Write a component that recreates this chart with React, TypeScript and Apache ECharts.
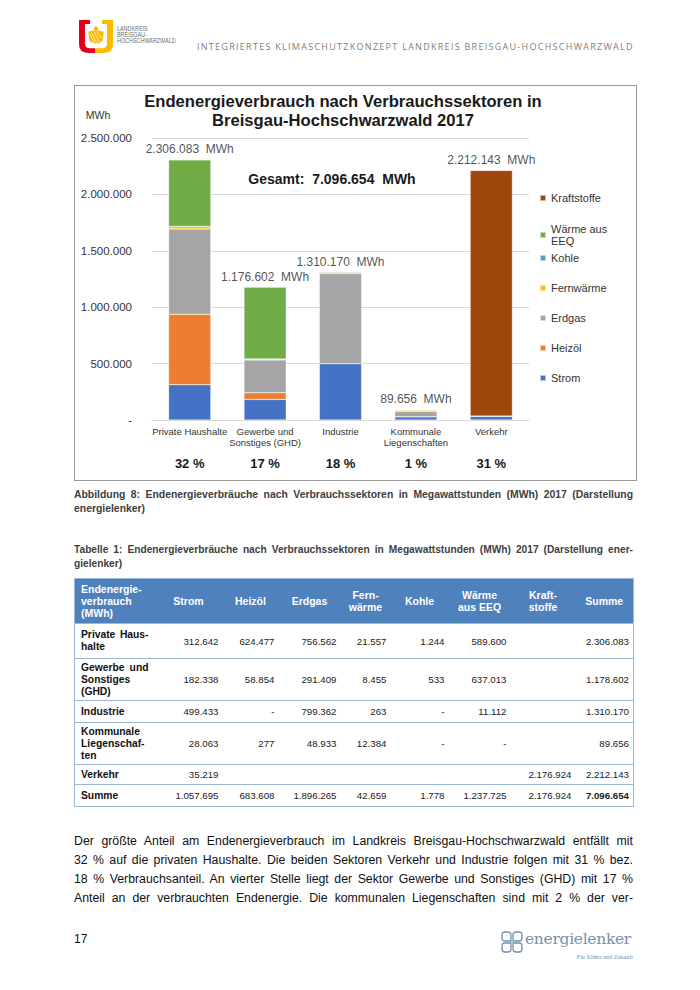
import React, { useEffect, useRef } from "react";
import * as echarts from "echarts";

const FONT = "'Liberation Sans', Arial, Helvetica, sans-serif";

// ---- chart data ----
const CATEGORIES = [
  "Private Haushalte",
  "Gewerbe und\nSonstiges (GHD)",
  "Industrie",
  "Kommunale\nLiegenschaften",
  "Verkehr",
];
const STROM = [312642, 182338, 499433, 28063, 35219];
const HEIZOEL = [624477, 58854, 0, 277, 0];
const ERDGAS = [756562, 291409, 799362, 48933, 0];
const FERNWAERME = [21557, 8455, 263, 12384, 0];
const KOHLE = [1244, 533, 0, 0, 0];
const WAERME_EEQ = [589600, 637013, 11112, 0, 0];
const KRAFTSTOFFE = [0, 0, 0, 0, 2176924];
const TOTAL_LABELS = [2306083, 1176602, 1310170, 89656, 2212143];
const SHARES = [32, 17, 18, 1, 31];
const GRAND_TOTAL = 7096654;
const Y_MIN = 0;
const Y_MAX = 2500000;
const Y_INTERVAL = 500000;

// ---- table data ----
const TABLE_HEADERS = [
  ["Endenergie-", "verbrauch", "(MWh)"],
  ["Strom"],
  ["Heizöl"],
  ["Erdgas"],
  ["Fern-", "wärme"],
  ["Kohle"],
  ["Wärme", "aus EEQ"],
  ["Kraft-", "stoffe"],
  ["Summe"],
];
const ROW_LABELS = [
  ["Private Haus-", "halte"],
  ["Gewerbe und", "Sonstiges", "(GHD)"],
  ["Industrie"],
  ["Kommunale", "Liegenschaf-", "ten"],
  ["Verkehr"],
  ["Summe"],
];
const ROW_PRIVATE = ["312.642", "624.477", "756.562", "21.557", "1.244", "589.600", "", "2.306.083"];
const ROW_GHD = ["182.338", "58.854", "291.409", "8.455", "533", "637.013", "", "1.178.602"];
const ROW_INDUSTRIE = ["499.433", "-", "799.362", "263", "-", "11.112", "", "1.310.170"];
const ROW_KOMMUNAL = ["28.063", "277", "48.933", "12.384", "-", "-", "", "89.656"];
const ROW_VERKEHR = ["35.219", "", "", "", "", "", "2.176.924", "2.212.143"];
const ROW_SUMME = ["1.057.695", "683.608", "1.896.265", "42.659", "1.778", "1.237.725", "2.176.924", "7.096.654"];

const BODY_LINES = [
  "Der größte Anteil am Endenergieverbrauch im Landkreis Breisgau-Hochschwarzwald entfällt mit",
  "32 % auf die privaten Haushalte. Die beiden Sektoren Verkehr und Industrie folgen mit 31 % bez.",
  "18 % Verbrauchsanteil. An vierter Stelle liegt der Sektor Gewerbe und Sonstiges (GHD) mit 17 %",
  "Anteil an der verbrauchten Endenergie. Die kommunalen Liegenschaften sind mit 2 % der ver-",
];

const fmt = (v: number) => String(Math.round(v)).replace(/\B(?=(\d{3})+(?!\d))/g, ".");

const SERIES = [
  { name: "Strom", data: STROM, color: "#4472C4" },
  { name: "Heizöl", data: HEIZOEL, color: "#ED7D31" },
  { name: "Erdgas", data: ERDGAS, color: "#A5A5A5" },
  { name: "Fernwärme", data: FERNWAERME, color: "#FFC000" },
  { name: "Kohle", data: KOHLE, color: "#5B9BD5" },
  { name: "Wärme aus EEQ", data: WAERME_EEQ, color: "#70AD47" },
  { name: "Kraftstoffe", data: KRAFTSTOFFE, color: "#9E480E" },
];

function Chart() {
  const ref = useRef<HTMLDivElement>(null);
  useEffect(() => {
    if (!ref.current) return;
    const chart = echarts.init(ref.current, undefined, { renderer: "svg" });
    const legendCommon = {
      orient: "vertical",
      left: 459,
      itemWidth: 6,
      itemHeight: 6,
      itemTextGap: 3,
      icon: "rect",
      selectedMode: false,
      textStyle: { fontFamily: FONT, fontSize: 11, lineHeight: 12, color: "#333" },
      formatter: (n: string) => (n === "Wärme aus EEQ" ? "Wärme aus\nEEQ" : n),
    };
    chart.setOption({
      animation: false,
      textStyle: { fontFamily: FONT },
      grid: { left: 77, top: 52, width: 377, height: 282 },
      legend: [
        { ...legendCommon, data: ["Kraftstoffe", "Wärme aus EEQ"], top: 101, itemGap: 19 },
        { ...legendCommon, data: ["Kohle", "Fernwärme", "Erdgas", "Heizöl", "Strom"], top: 161, itemGap: 18 },
      ],
      graphic: [
        {
          type: "text",
          x: 268,
          y: 6,
          style: {
            text: "Endenergieverbrauch nach Verbrauchssektoren in\nBreisgau-Hochschwarzwald 2017",
            textAlign: "center",
            fontFamily: FONT,
            fontSize: 16.6,
            fontWeight: "bold",
            lineHeight: 19,
            fill: "#1a1a1a",
          },
        },
        {
          type: "text",
          x: 23,
          y: 29,
          style: {
            text: "MWh",
            textAlign: "center",
            textVerticalAlign: "middle",
            fontFamily: FONT,
            fontSize: 10.5,
            fill: "#333",
          },
        },
        {
          type: "text",
          x: 257,
          y: 93,
          style: {
            text: "Gesamt:  " + fmt(GRAND_TOTAL) + "  MWh",
            textAlign: "center",
            textVerticalAlign: "middle",
            fontFamily: FONT,
            fontSize: 14,
            fontWeight: "bold",
            fill: "#1a1a1a",
          },
        },
      ],
      xAxis: [
        {
          type: "category",
          data: CATEGORIES,
          axisLine: { lineStyle: { color: "#D9D9D9" } },
          axisTick: { show: false },
          axisLabel: { interval: 0, fontSize: 9.5, lineHeight: 11, color: "#333", margin: 6 },
        },
        {
          type: "category",
          data: CATEGORIES,
          position: "bottom",
          offset: 32,
          axisLine: { show: false },
          axisTick: { show: false },
          axisLabel: {
            interval: 0,
            margin: 5,
            fontSize: 13,
            fontWeight: "bold",
            color: "#1a1a1a",
            formatter: (_v: string, i: number) => SHARES[i] + " %",
          },
        },
      ],
      yAxis: {
        type: "value",
        min: Y_MIN,
        max: Y_MAX,
        interval: Y_INTERVAL,
        axisLine: { show: false },
        axisTick: { show: false },
        splitLine: { lineStyle: { color: "#D9D9D9" } },
        axisLabel: {
          fontSize: 11.5,
          color: "#333",
          margin: 20,
          formatter: (v: number) => (v === 0 ? "-" : fmt(v)),
        },
      },
      series: [
        ...SERIES.map((s) => ({
          name: s.name,
          type: "bar",
          stack: "total",
          barWidth: "56%",
          data: s.data,
          itemStyle: { color: s.color, borderColor: "rgba(255,255,255,0.6)", borderWidth: 0.5 },
          silent: true,
        })),
        {
          name: "Summe",
          type: "scatter",
          data: TOTAL_LABELS,
          symbolSize: 1,
          itemStyle: { color: "rgba(0,0,0,0)" },
          silent: true,
          z: 10,
          label: {
            show: true,
            position: "top",
            distance: 4,
            fontSize: 12,
            color: "#262626",
            formatter: (p: any) => fmt(p.value) + "  MWh",
          },
        },
      ],
    });
    return () => chart.dispose();
  }, []);
  return <div ref={ref} style={{ width: 561, height: 394 }} />;
}

function LandkreisLogo() {
  return (
    <svg
      width="34"
      height="33"
      viewBox="0 0 40 42"
      preserveAspectRatio="none"
      style={{ position: "absolute", left: 79, top: 20 }}
    >
      <path d="M0 0 H13 V5 H7 V30 Q7 36 13 36 H19 V42 H11 Q0 42 0 31 Z" fill="#E2001A" />
      <path d="M40 0 H27 V5 H33 V30 Q33 36 27 36 H19 V42 H29 Q40 42 40 31 Z" fill="#FBBA00" />
      <circle cx="20" cy="11" r="2.6" fill="#FBBA00" />
      <path d="M11 15 Q20 11 29 15 L28 26 Q20 34 12 26 Z" fill="#FBBA00" />
      <path d="M13 18 L18 30 M15 16 L21 30 M18 15 L24 28 M21 15 L27 24" stroke="#fff" strokeWidth="0.9" />
    </svg>
  );
}

function EnergielenkerLogo() {
  const c = "#7392AC";
  return (
    <div style={{ position: "absolute", left: 501, top: 926, width: 134, height: 36 }}>
      <svg width="22" height="22" viewBox="0 0 22 22" style={{ position: "absolute", left: 0, top: 5 }}>
        <path d="M10 10 H4 Q1 10 1 7 V4 Q1 1 4 1 H7 Q10 1 10 4 Z" fill="none" stroke={c} strokeWidth="1.3" />
        <path d="M12 10 H18 Q21 10 21 7 V4 Q21 1 18 1 H15 Q12 1 12 4 Z" fill="none" stroke={c} strokeWidth="1.3" />
        <path d="M10 12 H4 Q1 12 1 15 V18 Q1 21 4 21 H7 Q10 21 10 18 Z" fill="none" stroke={c} strokeWidth="1.3" />
        <path d="M12 12 H18 Q21 12 21 15 V18 Q21 21 18 21 H15 Q12 21 12 18 Z" fill="none" stroke={c} strokeWidth="1.3" />
      </svg>
      <div
        style={{
          position: "absolute",
          left: 24,
          top: 3,
          fontFamily: "'DejaVu Serif', 'Liberation Serif', serif",
          fontSize: 15.5,
          color: c,
          lineHeight: "20px",
          letterSpacing: -0.3,
        }}
      >
        energielenker
      </div>
      <div
        style={{
          position: "absolute",
          right: 2,
          top: 27,
          fontFamily: "'Liberation Serif', serif",
          fontSize: 6,
          color: c,
          lineHeight: "8px",
        }}
      >
        Für Klima und Zukunft
      </div>
    </div>
  );
}

const COL_WIDTHS = [80, 68, 56, 62, 50, 58, 62, 65, 58];
const ROW_HEIGHTS = [35, 42, 22, 42, 20, 22];
const TABLE_ROWS = [ROW_PRIVATE, ROW_GHD, ROW_INDUSTRIE, ROW_KOMMUNAL, ROW_VERKEHR, ROW_SUMME];
const LINE_BLUE = "#9BB7D9";

function DataTable() {
  return (
    <table
      style={{
        position: "absolute",
        left: 74,
        top: 578,
        width: 559,
        borderCollapse: "collapse",
        tableLayout: "fixed",
        fontFamily: FONT,
        border: `1px solid ${LINE_BLUE}`,
      }}
    >
      <colgroup>
        {COL_WIDTHS.map((w, i) => (
          <col key={i} style={{ width: w }} />
        ))}
      </colgroup>
      <thead>
        <tr style={{ height: 45, background: "#4F81BD" }}>
          {TABLE_HEADERS.map((h, i) => (
            <th
              key={i}
              style={{
                color: "#fff",
                fontSize: 10.5,
                fontWeight: "bold",
                lineHeight: "12px",
                textAlign: i === 0 ? "left" : "center",
                padding: i === 0 ? "0 4px 0 6px" : "0 2px",
                verticalAlign: "middle",
              }}
            >
              {h.map((l, j) => (
                <div key={j}>{l}</div>
              ))}
            </th>
          ))}
        </tr>
      </thead>
      <tbody>
        {TABLE_ROWS.map((row, r) => (
          <tr key={r} style={{ height: ROW_HEIGHTS[r], borderTop: `1px solid ${LINE_BLUE}` }}>
            <td
              style={{
                fontSize: 10.3,
                fontWeight: "bold",
                lineHeight: "12px",
                padding: "0 6px 0 6px",
                verticalAlign: "middle",
                color: "#111",
              }}
            >
              {ROW_LABELS[r].map((l, j) => {
                const just = j < ROW_LABELS[r].length - 1 && l.includes(" ");
                return (
                  <div key={j} style={{ textAlign: just ? "justify" : "left", textAlignLast: just ? "justify" : "auto" }}>
                    {l}
                  </div>
                );
              })}
            </td>
            {row.map((v, c) => (
              <td
                key={c}
                style={{
                  fontSize: 9.7,
                  textAlign: "right",
                  padding: "0 4px 0 0",
                  verticalAlign: "middle",
                  color: "#222",
                  fontWeight: r === TABLE_ROWS.length - 1 && c === row.length - 1 ? "bold" : "normal",
                }}
              >
                {v}
              </td>
            ))}
          </tr>
        ))}
      </tbody>
    </table>
  );
}

function JustifiedLine({ text, style }: { text: string; style: React.CSSProperties }) {
  return <div style={{ textAlign: "justify", textAlignLast: "justify", ...style }}>{text}</div>;
}

export default function App() {
  return (
    <div
      style={{
        position: "absolute",
        left: 0,
        top: 0,
        width: 700,
        height: 990,
        background: "#fff",
        overflow: "hidden",
        fontFamily: FONT,
      }}
    >
      <LandkreisLogo />
      <div
        style={{
          position: "absolute",
          left: 117,
          top: 26,
          fontFamily: FONT,
          fontSize: 6.3,
          lineHeight: "6px",
          color: "#6d6d6d",
          transform: "scaleX(0.86)",
          transformOrigin: "left top",
          whiteSpace: "nowrap",
        }}
      >
        <div>LANDKREIS</div>
        <div>BREISGAU-</div>
        <div>HOCHSCHWARZWALD</div>
      </div>
      <div
        style={{
          position: "absolute",
          left: 197,
          top: 41,
          fontFamily: "'Open Sans', sans-serif",
          fontSize: 9,
          letterSpacing: 1.28,
          color: "#808080",
          whiteSpace: "nowrap",
          lineHeight: "12px",
        }}
      >
        INTEGRIERTES KLIMASCHUTZKONZEPT LANDKREIS BREISGAU-HOCHSCHWARZWALD
      </div>

      <div
        style={{
          position: "absolute",
          left: 74,
          top: 85,
          width: 563,
          height: 396,
          border: "1px solid #9A9A9A",
          boxSizing: "border-box",
        }}
      >
        <Chart />
      </div>

      <div
        style={{
          position: "absolute",
          left: 74,
          top: 488,
          width: 559,
          fontSize: 10.4,
          fontWeight: "bold",
          lineHeight: "14px",
          color: "#404040",
        }}
      >
        <JustifiedLine
          text="Abbildung 8: Endenergieverbräuche nach Verbrauchssektoren in Megawattstunden (MWh) 2017 (Darstellung"
          style={{}}
        />
        <div>energielenker)</div>
      </div>

      <div
        style={{
          position: "absolute",
          left: 74,
          top: 543,
          width: 559,
          fontSize: 10.2,
          fontWeight: "bold",
          lineHeight: "14px",
          color: "#404040",
        }}
      >
        <JustifiedLine
          text="Tabelle 1: Endenergieverbräuche nach Verbrauchssektoren in Megawattstunden (MWh) 2017 (Darstellung ener-"
          style={{}}
        />
        <div>gielenker)</div>
      </div>

      <DataTable />

      <div
        style={{
          position: "absolute",
          left: 74,
          top: 832,
          width: 559,
          fontSize: 12.3,
          lineHeight: "19px",
          color: "#111",
        }}
      >
        {BODY_LINES.map((l, i) => (
          <JustifiedLine key={i} text={l} style={{}} />
        ))}
      </div>

      <div style={{ position: "absolute", left: 74, top: 931, fontSize: 12, lineHeight: "16px", color: "#111" }}>17</div>
      <EnergielenkerLogo />
    </div>
  );
}
